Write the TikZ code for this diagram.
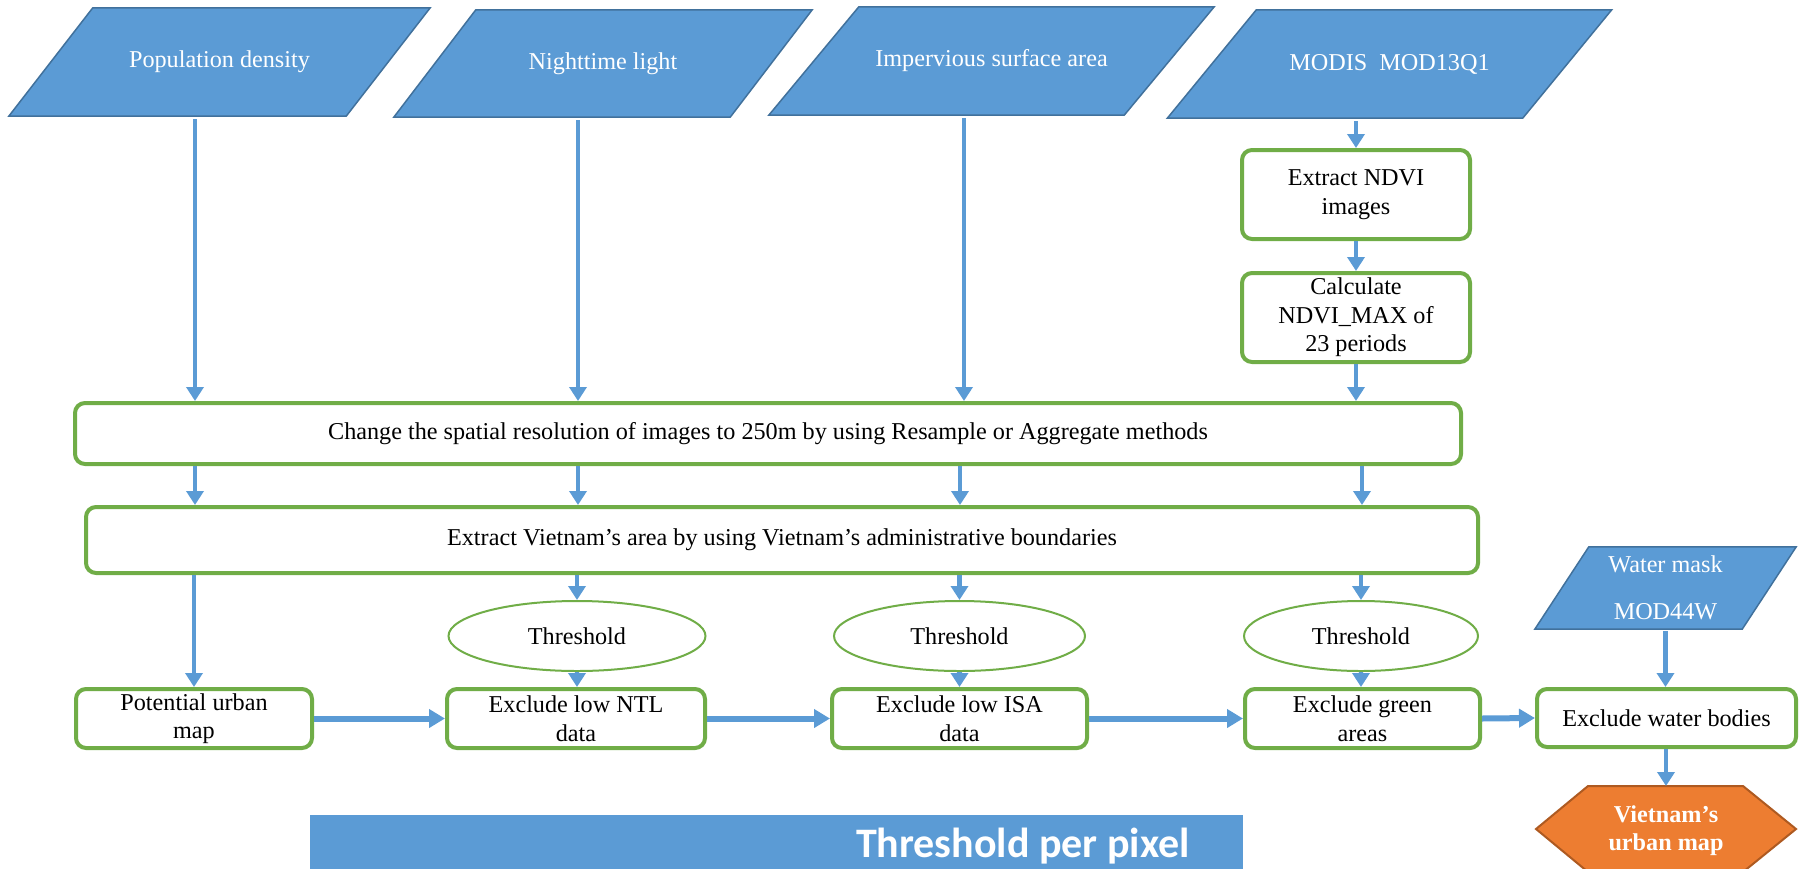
\documentclass[tikz,border=0pt]{standalone}
\usepackage{fontspec}
\setmainfont{Liberation Serif}
\newfontfamily\calib{Carlito}
\usetikzlibrary{shapes.geometric,arrows.meta}
\pgfdeclarelayer{background}
\pgfsetlayers{background,main}
\definecolor{pblue}{HTML}{5B9BD5}
\definecolor{pblueb}{HTML}{41719C}
\definecolor{pgreen}{HTML}{70AD47}
\definecolor{porange}{HTML}{ED7D31}
\definecolor{porangeb}{HTML}{AE5A21}
\begin{document}
\begin{tikzpicture}[x=1pt,y=-1pt,
  txt/.style={font=\fontsize{24.2}{28.5}\selectfont},
  gbox/.style={txt, draw=pgreen, line width=4pt, rounded corners=10pt, fill=white, align=center, inner sep=0pt},
  ell/.style={txt, ellipse, draw=pgreen, line width=2pt, fill=white, inner sep=0pt, minimum height=70pt},
  para/.style={txt, inner sep=0pt, text=white, align=center},
  parafill/.style={fill=pblue, draw=pblueb, line width=1.5pt},
  arr/.style={draw=pblue, line width=4.5pt, -{Triangle[width=17pt,length=14pt]}},
  harr/.style={draw=pblue, line width=6pt, -{Triangle[width=18pt,length=16pt]}}
]
\useasboundingbox (0,0) rectangle (1802,868);
\clip (0,0) rectangle (1802,868);

% column coordinates
\coordinate (c1) at (195,0);
\coordinate (c2) at (578,0);
\coordinate (c3u) at (964,0);
\coordinate (c3) at (960,0);
\coordinate (c4u) at (1356,0);
\coordinate (c4) at (1362,0);

% input parallelograms (text nodes; shapes drawn on background)
\node[para, minimum width=337pt, minimum height=108pt] (p1) at (219.5,62) {Population density};
\node[para, minimum width=336pt, minimum height=107pt] (p2) at (603,63.5) {Nighttime light};
\node[para, minimum width=355pt, minimum height=108pt] (p3) at (991.5,61) {Impervious surface area};
\node[para, minimum width=355pt, minimum height=108pt] (p4) at (1389.5,64) {MODIS\ \ MOD13Q1};
\node[para, minimum width=207pt, minimum height=82pt] (wm) at (1665.5,588) {Water mask\\[18pt]MOD44W};

\begin{pgfonlayer}{background}
\foreach \n/\s in {p1/42,p2/41,p3/45,p4/44.5,wm/27} {
  \filldraw[parafill] ([xshift=\s pt]\n.north west) -- ([xshift=\s pt]\n.north east)
     -- ([xshift=-\s pt]\n.south east) -- ([xshift=-\s pt]\n.south west) -- cycle;
}
\end{pgfonlayer}

% process boxes
\node[gbox, minimum width=228pt, minimum height=89pt] (ndvi) at (1356,194.5) {Extract NDVI\\images};
\node[gbox, minimum width=228pt, minimum height=89pt] (calc) at (1356,317.5) {Calculate\\NDVI\_MAX of\\23 periods};
\node[gbox, minimum width=1386pt, minimum height=61pt] (change) at (768,433.5) {Change the spatial resolution of images to 250m by using Resample or Aggregate methods};
\node[gbox, minimum width=1392pt, minimum height=66pt] (extract) at (782,540) {Extract Vietnam’s area by using Vietnam’s administrative boundaries};

\node[ell, minimum width=257pt] (th1) at (577,636) {Threshold};
\node[ell, minimum width=251pt] (th2) at (959.5,636) {Threshold};
\node[ell, minimum width=234pt] (th3) at (1361,636) {Threshold};

\node[gbox, minimum width=236pt, minimum height=59pt] (pot) at (194,718.5) {Potential urban\\map};
\node[gbox, minimum width=258pt, minimum height=59pt] (ntl) at (576,718.5) {Exclude low NTL\\data};
\node[gbox, minimum width=255pt, minimum height=59pt] (isa) at (959.5,718.5) {Exclude low ISA\\data};
\node[gbox, minimum width=235pt, minimum height=59pt] (green) at (1362.5,718.5) {Exclude green\\areas};
\node[gbox, minimum width=259pt, minimum height=58pt] (water) at (1666.5,718) {Exclude water bodies};

% output hexagon
\filldraw[fill=porange, draw=porangeb, line width=2pt]
  (1588,786) -- (1743,786) -- (1796,829) -- (1743,872) -- (1588,872) -- (1536,829) -- cycle;
\coordinate (hextop) at (1666,786);
\node[txt, text=white, font=\fontsize{24.2}{28}\selectfont\bfseries, align=center] (vmap) at (1666,831) {Vietnam’s\\urban map};

% banner
\node[fill=pblue, minimum width=933pt, minimum height=56pt, inner sep=0pt, anchor=north west] (banner) at (310,815) {};
\node[text=white, font=\fontsize{42}{46}\calib\bfseries, anchor=base, inner sep=0pt] (bantext) at (1023,857) {Threshold per pixel};

% connectors
\draw[arr, shorten <=3pt] (p1.south -| c1) -- (change.north -| c1);
\draw[arr, shorten <=3pt] (p2.south -| c2) -- (change.north -| c2);
\draw[arr, shorten <=3pt] (p3.south -| c3u) -- (change.north -| c3u);
\draw[arr, shorten <=3pt] (p4.south -| c4u) -- (ndvi.north);
\draw[arr] (ndvi.south) -- (calc.north);
\draw[arr] (calc.south) -- (change.north -| calc);

\draw[arr] (change.south -| c1) -- (extract.north -| c1);
\draw[arr] (change.south -| c2) -- (extract.north -| c2);
\draw[arr] (change.south -| c3) -- (extract.north -| c3);
\draw[arr] (change.south -| c4) -- (extract.north -| c4);

\draw[arr] (extract.south -| pot) -- (pot.north);
\draw[arr] (extract.south -| th1) -- (th1.north);
\draw[arr] (extract.south -| th2) -- (th2.north);
\draw[arr] (extract.south -| th3) -- (th3.north);
\draw[arr] (th1.south) -- (ntl.north -| th1);
\draw[arr] (th2.south) -- (isa.north -| th2);
\draw[arr] (th3.south) -- (green.north -| th3);

\draw[harr] (pot.east) -- (ntl.west);
\draw[harr] (ntl.east) -- (isa.west);
\draw[harr] (isa.east) -- (green.west);
\draw[harr] (green.east) -- (water.west);

\draw[arr, shorten <=2pt] (wm.south) -- (water.north -| wm);
\draw[arr] (water.south -| hextop) -- (hextop);
\end{tikzpicture}
\end{document}
